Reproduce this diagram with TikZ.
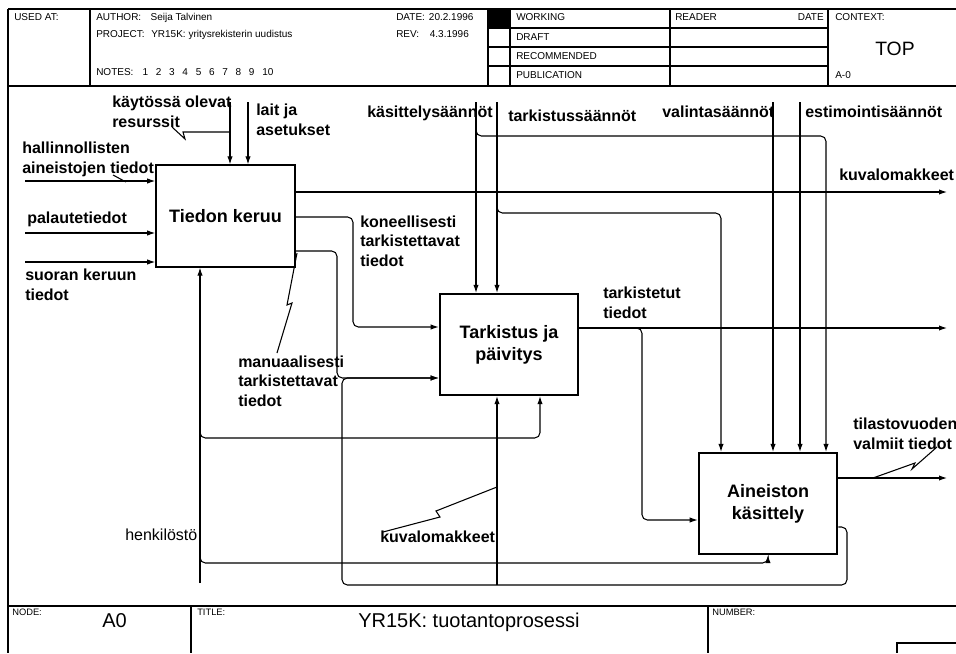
\documentclass[tikz,border=0pt]{standalone}
\usepackage{fontspec}
\setmainfont{Liberation Sans}
\usetikzlibrary{arrows.meta}

\begin{document}
\begin{tikzpicture}[x=0.75pt, y=-0.75pt,
 every node/.style={inner sep=0pt},
 box/.style={draw, line width=1.4pt, minimum width=104pt, minimum height=76pt,
 align=center, font=\fontsize{13.5}{16.5}\selectfont\bfseries},
 lbl/.style={anchor=base west, align=left, font=\fontsize{12}{14.5}\selectfont\bfseries},
 hdr/.style={anchor=base west, font=\fontsize{7.5}{9}\selectfont},
 small/.style={anchor=base west, font=\fontsize{7}{8}\selectfont},
 frame/.style={line width=0.9pt},
 flow/.style={line width=0.8pt, rounded corners=4pt},
 arr/.style={flow, -{Latex[length=6pt,width=4pt]}},
 squig/.style={line width=0.8pt}]
\useasboundingbox (0,0) rectangle (956,653);

% form
\draw[frame] (8,9) -- (956,9);
\draw[frame] (8,9) -- (8,653);
\draw[frame] (8,86) -- (956,86);
\draw[frame] (90,9) -- (90,86);
\foreach \x in {488,510,670,828} \draw[frame] (\x,9) -- (\x,86);
\foreach \y in {28,47,66} \draw[frame] (488,\y) -- (828,\y);
\fill (488,9) rectangle (510,28);
\draw[frame] (8,606) -- (956,606);
\draw[frame] (191,606) -- (191,653);
\draw[frame] (708,606) -- (708,653);
\draw[frame] (956,643) -- (897,643) -- (897,653);

\node[hdr] (usedat) at (14,21) {USED AT:};
\node[hdr] (author) at (96,21) {AUTHOR:\hspace{7pt}Seija Talvinen};
\node[hdr] (project) at (96,37) {PROJECT:\hspace{5pt}YR15K: yritysrekisterin uudistus};
\node[hdr] (notes) at (96,75) {NOTES:};
\foreach \n in {1,...,10}
 \node[hdr] (note\n) at (129+13.3*\n,75) {\n};
\node[hdr] (date) at (396,21) {DATE:\hspace{3pt}20.2.1996};
\node[hdr] (rev) at (396,37) {REV:\hspace{8pt}4.3.1996};
\node[hdr] (working) at (516,21) {WORKING};
\node[hdr] (draft) at (516,40) {DRAFT};
\node[hdr] (recomm) at (516,59) {RECOMMENDED};
\node[hdr] (public) at (516,78) {PUBLICATION};
\node[hdr] (reader) at (675,21) {READER};
\node[hdr, anchor=base east] (rdate) at (824,21) {DATE};
\node[hdr] (context) at (835,21) {CONTEXT:};
\node[anchor=base west, font=\fontsize{14.5}{16}\selectfont] (top) at (875,55) {TOP};
\node[hdr] (aminus) at (835,78) {A-0};
\node[small] (nodelbl) at (12,615) {NODE:};
\node[anchor=base west, font=\fontsize{15}{17}\selectfont] (azero) at (102,627) {A0};
\node[small] (titlelbl) at (197,615) {TITLE:};
\node[anchor=base west, font=\fontsize{15}{17}\selectfont] (title) at (358,627) {YR15K: tuotantoprosessi};
\node[small] (numlbl) at (712,615) {NUMBER:};

% activities
\node[box] (keruu) at (225.5,216) {Tiedon keruu};
\node[box] (tark) at (509,344.5) {Tarkistus ja\\päivitys};
\node[box] (aine) at (768,503.5) {Aineiston\\käsittely};

\coordinate (hal) at (25,181);
\coordinate (pal) at (25,233);
\coordinate (suo) at (25,262);
\coordinate (res) at (230,102);
\coordinate (lait) at (248,102);
\coordinate (kas) at (476,102);
\coordinate (tars) at (497,102);
\coordinate (val) at (773,102);
\coordinate (est) at (800,102);
\coordinate (kuva) at (947,192);
\coordinate (tied) at (947,328);
\coordinate (tila) at (947,478);
\coordinate (henk) at (200,583);

% arrows
\draw[arr] (hal) -- (hal -| keruu.west);
\draw[arr] (pal) -- (pal -| keruu.west);
\draw[arr] (suo) -- (suo -| keruu.west);
\draw[arr] (res) -- (res |- keruu.north);
\draw[arr] (lait) -- (lait |- keruu.north);
\draw[arr] (keruu.east |- kuva) -- (kuva);
\draw[arr] (keruu.east |- 0,217) -- (353,217) -- (353,327) -- (tark.west |- 0,327);
\draw[arr] (keruu.east |- 0,251) -- (337,251) -- (337,378) -- (tark.west |- 0,378);
\draw[arr] (aine.east |- 0,527) -- (847,527) -- (847,585) -- (342,585) -- (342,378) -- (tark.west |- 0,378);
\draw[arr] (tars |- 0,585) -- (tars |- tark.south);
\draw[arr] (kas) -- (kas |- tark.north);
\draw[arr] (kas |- 0,128) -- (kas |- 0,136) -- (826,136) -- (826,136 |- aine.north);
\draw[arr] (tars) -- (tars |- tark.north);
\draw[arr] (tars |- 0,205) -- (tars |- 0,213) -- (721,213) -- (721,213 |- aine.north);
\draw[arr] (val) -- (val |- aine.north);
\draw[arr] (est) -- (est |- aine.north);
\draw[arr] (tark.east |- tied) -- (tied);
\draw[arr] (634,328) -- (642,328) -- (642,520) -- (aine.west |- 0,520);
\draw[arr] (aine.east |- tila) -- (tila);
\draw[arr] (henk) -- (henk |- keruu.south);
\draw[arr] (henk |- 0,430) -- (henk |- 0,438) -- (540,438) -- (540,438 |- tark.south);
\draw[arr] (henk |- 0,555) -- (henk |- 0,563) -- (768,563) -- (aine.south);

% labels (base = last line)
\node[lbl] (lhal) at (22,173) {hallinnollisten\\aineistojen tiedot};
\node[lbl] (lpal) at (27,223) {palautetiedot};
\node[lbl] (lsuo) at (25,300) {suoran keruun\\tiedot};
\node[lbl] (lres) at (112,127) {käytössä olevat\\resurssit};
\node[lbl] (llait) at (256,135) {lait ja\\asetukset};
\node[lbl] (lkas) at (367,117) {käsittelysäännöt};
\node[lbl] (ltars) at (508,121) {tarkistussäännöt};
\node[lbl] (lval) at (662,117) {valintasäännöt};
\node[lbl] (lest) at (805,117) {estimointisäännöt};
\node[lbl] (lkuva) at (839,180) {kuvalomakkeet};
\node[lbl] (lkone) at (360,266) {koneellisesti\\tarkistettavat\\tiedot};
\node[lbl] (lmanu) at (238,406) {manuaalisesti\\tarkistettavat\\tiedot};
\node[lbl] (ltied) at (603,318) {tarkistetut\\tiedot};
\node[lbl] (ltila) at (853,449) {tilastovuoden\\valmiit tiedot};
\node[lbl] (lkuva2) at (380,542) {kuvalomakkeet};
\node[lbl, font=\fontsize{12}{14.5}\selectfont] (lhenk) at (125,540) {henkilöstö};

\draw[squig] (113,175) -- (126,182);
\draw[squig] (172,127) -- (185,139) -- (183,132) -- (res |- 0,132);
\draw[squig] (277,353) -- (292,303) -- (287,305) -- (297,253);
\draw[squig] (873,478) -- (915,463) -- (912,469) -- (937,447);
\draw[squig] (383,532) -- (440,517) -- (436,511) -- (tars |- 0,487);
\end{tikzpicture}
\end{document}
